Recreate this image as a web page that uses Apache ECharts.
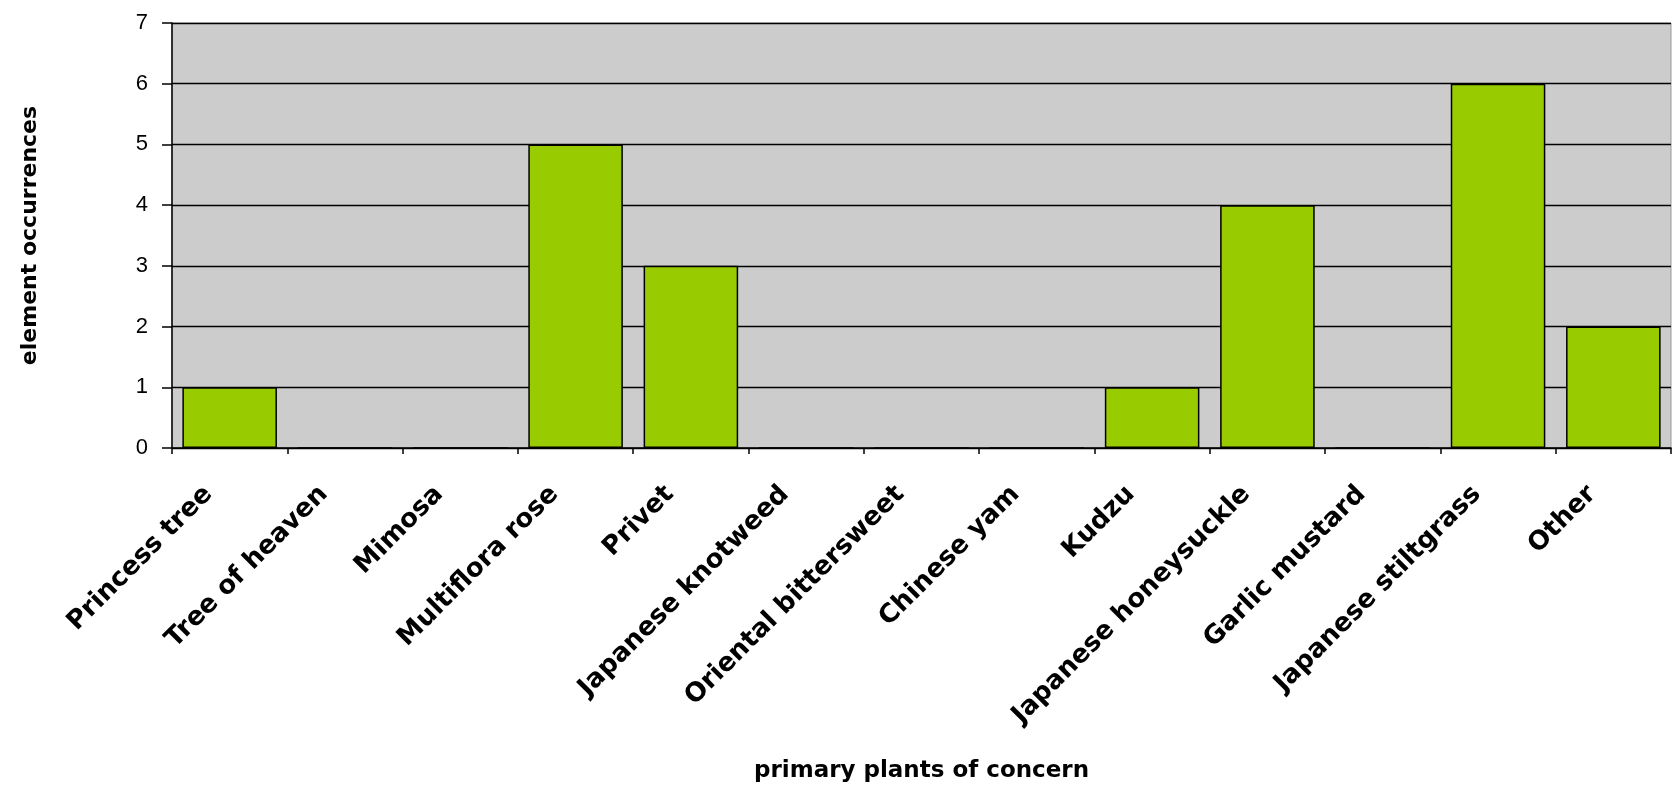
<!DOCTYPE html>
<html>
<head>
<meta charset="utf-8">
<script src="https://cdn.jsdelivr.net/npm/echarts@6/dist/echarts.min.js"></script>
<style>
  html, body { margin: 0; padding: 0; background: #ffffff; }
  #chart { width: 1674px; height: 789px; }
</style>
</head>
<body>
<div id="chart"></div>
<script>
// Invasive plants recorded as primary concerns, counted per element occurrence
const plants = [
  'Princess tree', 'Tree of heaven', 'Mimosa', 'Multiflora rose', 'Privet',
  'Japanese knotweed', 'Oriental bittersweet', 'Chinese yam', 'Kudzu',
  'Japanese honeysuckle', 'Garlic mustard', 'Japanese stiltgrass', 'Other'
];
const occurrences = [1, 0, 0, 5, 3, 0, 0, 0, 1, 4, 0, 6, 2];
const yTicks = { min: 0, max: 7, step: 1 };

const FONT = '"Liberation Sans", Arial, sans-serif';
const BOLD_FONT = '"DejaVu Sans", "Liberation Sans", sans-serif';

const chart = echarts.init(document.getElementById('chart'), null, { renderer: 'canvas' });
chart.setOption({
  animation: false,
  backgroundColor: '#ffffff',
  grid: {
    left: 172, right: 3, top: 23, bottom: 341,
    show: true,
    backgroundColor: '#cccccc',
    borderColor: '#999999',
    borderWidth: 1
  },
  xAxis: {
    type: 'category',
    data: plants,
    name: 'primary plants of concern',
    nameLocation: 'middle',
    nameGap: 312,
    nameTextStyle: { fontFamily: BOLD_FONT, fontWeight: 'bold', fontSize: 23, color: '#000' },
    axisLine: { lineStyle: { color: '#000', width: 1.5 } },
    axisTick: { show: true, alignWithLabel: false, length: 6, lineStyle: { color: '#000', width: 1.5 } },
    axisLabel: {
      interval: 0,
      rotate: 45,
      margin: 21,
      padding: [0, 30, 0, 0],
      fontFamily: BOLD_FONT,
      fontWeight: 'bold',
      fontSize: 26,
      color: '#000'
    },
    splitLine: { show: false }
  },
  yAxis: {
    type: 'value',
    min: yTicks.min,
    max: yTicks.max,
    interval: yTicks.step,
    name: 'element occurrences',
    nameLocation: 'middle',
    nameGap: 131,
    nameTextStyle: { fontFamily: BOLD_FONT, fontWeight: 'bold', fontSize: 22, color: '#000' },
    axisLine: { show: true, lineStyle: { color: '#000', width: 1.5 } },
    axisTick: { show: true, inside: false, length: 10, lineStyle: { color: '#000', width: 1.5 } },
    axisLabel: { margin: 24, fontFamily: FONT, fontSize: 22, color: '#000' },
    splitLine: { show: true, lineStyle: { color: '#000', width: 1.4 } }
  },
  series: [{
    type: 'bar',
    data: occurrences,
    barCategoryGap: '18%',
    itemStyle: { color: '#99cc00', borderColor: '#000', borderWidth: 1.5 }
  }]
});
</script>
</body>
</html>
